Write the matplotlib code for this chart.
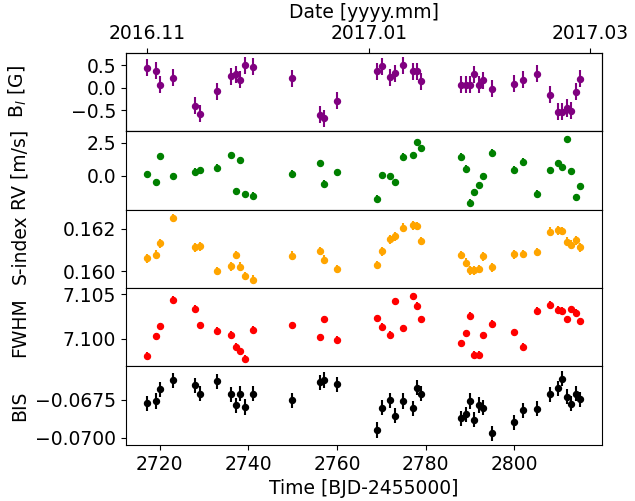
import numpy as np
import matplotlib
matplotlib.use("Agg")
import matplotlib.pyplot as plt

plt.rcParams['font.size'] = 13.5

# observation times (BJD-2455000)
t = [2717.17, 2719.04, 2720.00, 2722.96, 2727.95, 2728.98, 2732.98, 2735.97, 2737.08, 2738.20,
     2739.15, 2740.94, 2749.91, 2756.08, 2757.13, 2759.93, 2769.06, 2770.11, 2771.96, 2773.07,
     2774.94, 2777.08, 2778.13, 2778.86, 2788.08, 2789.11, 2790.00, 2790.98, 2791.94, 2792.90,
     2795.06, 2800.02, 2801.89, 2805.08, 2808.04, 2809.82, 2810.87, 2811.91, 2812.87, 2813.92,
     2814.88]

# longitudinal field [G]
bl = [0.45, 0.38, 0.07, 0.22, -0.40, -0.58, -0.08, 0.26, 0.30, 0.18,
      0.50, 0.47, 0.21, -0.60, -0.68, -0.29, 0.37, 0.48, 0.24, 0.32,
      0.50, 0.37, 0.37, 0.15, 0.07, 0.07, 0.07, 0.30, 0.07, 0.17,
      -0.02, 0.09, 0.18, 0.31, -0.15, -0.53, -0.53, -0.45, -0.51, -0.09,
      0.20]
bl_err = [0.19, 0.19, 0.19, 0.19, 0.19, 0.19, 0.19, 0.19, 0.19, 0.19,
          0.19, 0.19, 0.19, 0.19, 0.19, 0.19, 0.19, 0.19, 0.19, 0.19,
          0.19, 0.19, 0.19, 0.19, 0.19, 0.19, 0.19, 0.19, 0.19, 0.19,
          0.19, 0.19, 0.19, 0.19, 0.19, 0.19, 0.19, 0.19, 0.19, 0.19,
          0.19]

# radial velocity [m/s]
rv = [0.15, -0.50, 1.50, -0.02, 0.32, 0.45, 0.62, 1.58, -1.18, 1.20,
      -1.37, -1.50, 0.17, 0.97, -0.58, 0.27, -1.73, 0.07, 0.00, -0.45,
      1.47, 1.58, 2.55, 2.10, 1.47, 0.55, -2.03, -1.25, -0.68, -0.02,
      1.77, 0.47, 1.07, -1.35, 0.43, 0.97, 0.67, 2.80, 0.37, -1.62,
      -0.77]
rv_err = [0.25] * 41

# S-index
sidx = [0.16061, 0.16079, 0.16132, 0.16252, 0.16113, 0.16118, 0.16002, 0.16024, 0.16077, 0.16022,
        0.15978, 0.15961, 0.16074, 0.16096, 0.16055, 0.16011, 0.16030, 0.16094, 0.16151, 0.16165,
        0.16206, 0.16216, 0.16214, 0.16142, 0.16077, 0.16041, 0.16005, 0.16005, 0.16011, 0.16071,
        0.16019, 0.16080, 0.16082, 0.16092, 0.16187, 0.16193, 0.16189, 0.16140, 0.16126, 0.16146,
        0.16113]
sidx_err = [0.0002] * 41

# FWHM
fwhm = [7.09807, 7.10026, 7.10140, 7.10435, 7.10336, 7.10148, 7.10091, 7.10041, 7.09909, 7.09859,
        7.09776, 7.10102, 7.10151, 7.10015, 7.10219, 7.09989, 7.10227, 7.10136, 7.10041, 7.10420,
        7.10114, 7.10477, 7.10367, 7.10216, 7.09950, 7.10060, 7.10257, 7.09818, 7.09818, 7.10038,
        7.10166, 7.10072, 7.09909, 7.10310, 7.10378, 7.10322, 7.10310, 7.10219, 7.10330, 7.10291,
        7.10193]
fwhm_err = [0.0004] * 41

# bisector span
bis = [-0.06774, -0.06759, -0.06683, -0.06622, -0.06655, -0.06711, -0.06629, -0.06715, -0.06787, -0.06711,
       -0.06798, -0.06711, -0.06753, -0.06635, -0.06620, -0.06650, -0.06950, -0.06802, -0.06755, -0.06857,
       -0.06759, -0.06807, -0.06672, -0.06711, -0.06874, -0.06846, -0.06759, -0.06883, -0.06785, -0.06802,
       -0.06971, -0.06900, -0.06820, -0.06809, -0.06715, -0.06676, -0.06611, -0.06730, -0.06776, -0.06711,
       -0.06748]
bis_err = [0.0005] * 41

date_ticks = [2717.17, 2767.17, 2817.05]
date_labels = ["2016.11", "2017.01", "2017.03"]

fig, axes = plt.subplots(5, 1, sharex=True, figsize=(6.35, 5.01), dpi=100)
plt.subplots_adjust(left=0.198, right=0.948, bottom=0.112, top=0.895, hspace=0)

series = [(bl, bl_err, 'purple', r'B$_l$ [G]', (-0.964, 0.785), [-0.5, 0.0, 0.5]),
          (rv, rv_err, 'green', 'RV [m/s]', (-2.55, 3.40), [0.0, 2.5]),
          (sidx, sidx_err, 'orange', 'S-index', (0.15922, 0.16291), [0.160, 0.162]),
          (fwhm, fwhm_err, 'red', 'FWHM', (7.09689, 7.10568), [7.100, 7.105]),
          (bis, bis_err, 'black', 'BIS', (-0.07048, -0.06531), [-0.0700, -0.0675])]

for ax, (y, e, c, lab, lim, ticks) in zip(axes, series):
    ax.errorbar(t, y, yerr=e, fmt='o', color=c, ms=4.3, elinewidth=1.5, capsize=0)
    ax.set_ylabel(lab)
    ax.set_ylim(lim)
    ax.set_yticks(ticks)

axes[2].set_yticklabels(["0.160", "0.162"])
axes[3].set_yticklabels(["7.100", "7.105"])
axes[4].set_yticklabels(["\u22120.0700", "\u22120.0675"])

for ax in axes[:-1]:
    ax.tick_params(axis='x', bottom=False)

axes[-1].set_xlim(2712.3, 2819.8)
axes[-1].set_xticks([2720, 2740, 2760, 2780, 2800])
axes[-1].set_xlabel("Time [BJD-2455000]")

top = axes[0].twiny()
top.set_xlim(axes[0].get_xlim())
top.set_xticks(date_ticks)
top.set_xticklabels(date_labels)
top.set_xlabel("Date [yyyy.mm]")

fig.align_ylabels(axes)

plt.savefig("out.png", dpi=100)
